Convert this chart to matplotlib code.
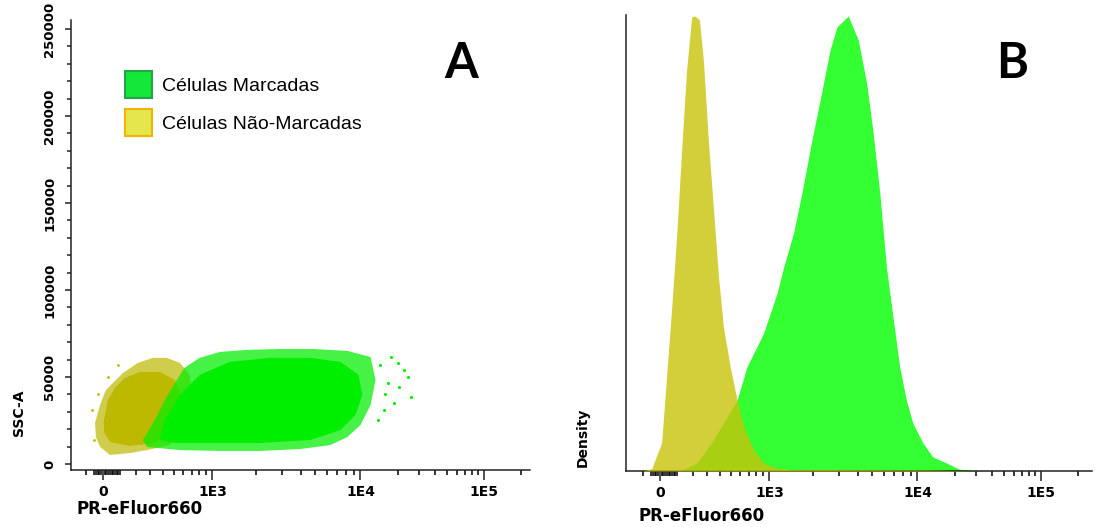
import numpy as np
import matplotlib
matplotlib.use("Agg")
import matplotlib.pyplot as plt
from matplotlib.patches import Patch
from matplotlib.ticker import FixedLocator, FixedFormatter, NullFormatter

# ---------------- data ----------------
legend_labels = ["Células Marcadas", "Células Não-Marcadas"]
x_label = "PR-eFluor660"
ya_label = "SSC-A"
yb_label = "Density"
xtick_values = [0, 1e3, 1e4, 1e5]
xtick_labels = ["0", "1E3", "1E4", "1E5"]
ytick_values = [0, 50000, 100000, 150000, 200000, 250000]
ytick_labels = ["0", "50000", "100000", "150000", "200000", "250000"]

# Panel A: outlines of the dot clouds (fluorescence, SSC-A)
unl_outer_x = [-46, -17, 17, 58, 118, 212, 320, 435, 564, 675, 699, 611, 464, 276, 161, 41, -17, -41]
unl_outer_y = [23600, 33900, 42500, 46600, 52300, 58100, 61000, 61000, 58100, 51200, 36800, 19500, 10900, 8000, 6300, 5200, 9800, 15500]
unl_core_x = [6, 29, 70, 130, 227, 375, 513, 585, 513, 336, 161, 41, 6]
unl_core_y = [25300, 36800, 43700, 49500, 52900, 52900, 48300, 36800, 19500, 12100, 10400, 12700, 18400]

lab_outer_x = [276, 247, 336, 419, 513, 611, 804, 1126, 1733, 2901, 4834, 8175, 12070, 13250, 12070, 10000, 8175, 6300, 3966, 2126, 1126, 564]
lab_outer_y = [9800, 13800, 25300, 36800, 46600, 55200, 61000, 64400, 65600, 66100, 66100, 65000, 61500, 48300, 33900, 22400, 15500, 10900, 8600, 7500, 7500, 8000]
lab_core_x = [375, 419, 564, 804, 1323, 2483, 4622, 7343, 9700, 10350, 9260, 7343, 4622, 2126, 960, 513]
lab_core_y = [13800, 25300, 39700, 51200, 58700, 61000, 61000, 58700, 51200, 39700, 28200, 19500, 13800, 12100, 12100, 12100]

lab_outlier_x = [17580, 22430, 25570, 20030, 18580, 15400, 13760, 16600, 20410, 24170, 14500, 15800]
lab_outlier_y = [61500, 54000, 38500, 58100, 35100, 31000, 25300, 46600, 44300, 50000, 57000, 40000]
unl_outlier_x = [-64, -52, 30, 90, -30]
unl_outlier_y = [31000, 13800, 50000, 57000, 40000]

# Panel B: histograms (fluorescence, % of mode)
lab_hist_x = [118, 228, 347, 566, 678, 906, 1132, 1258, 1472, 1679, 1963, 2231, 2604, 2896, 3449,
              4027, 4577, 5063, 5606, 6209, 6870, 7607, 8426, 9320, 11040, 13290, 17050, 21820, 34700]
lab_hist_d = [0, 1.8, 6.8, 15.6, 22.9, 30.3, 39.1, 44.8, 52.3, 61.1, 72.7, 81.5, 92.5, 97.6, 100,
              94.7, 85.3, 74.3, 61.1, 44.8, 33.8, 22.9, 15.6, 10.5, 6.2, 3.1, 1.8, 0.4, 0]
unl_hist_x = [-100, -48, 10, 39, 68, 98, 128, 159, 192, 214, 244, 272, 310, 349, 390, 433, 496,
              566, 639, 764, 906, 1097, 1399, 3000, 12000, 30000]
unl_hist_d = [0, 0.5, 6.2, 20.9, 35.6, 51.6, 70.3, 88.1, 99.8, 100, 99.1, 90.3, 72.1, 57.4, 42.6,
              31.6, 22.9, 15.6, 9.7, 4.6, 1.8, 0.7, 0.3, 0.3, 0.2, 0]

# ---------------- styles ----------------
GREEN_DOT = "#00ee00"
YELLOW_DOT = "#bdb900"
GREEN_HIST = "#33ff33"
YELLOW_HIST = (200 / 255, 196 / 255, 10 / 255)
AXC = "#222222"

# biexponential-like axis (asinh, piecewise fitted to the decade positions)
C = 368.0
_T = np.array([-20.0, 0.0, np.arcsinh(1e3 / C), np.arcsinh(1e4 / C), np.arcsinh(1e5 / C), 20.0])
_P = np.array([-20 * 63.5, 0.0, 109.5, 257.5, 381.0, 381.0 + (20 - np.arcsinh(1e5 / C)) * 53.3])


def fwd(x):
    return np.interp(np.arcsinh(np.asarray(x, float) / C), _T, _P)


def inv(p):
    return C * np.sinh(np.interp(np.asarray(p, float), _P, _T))


minor_x = ([-100] + list(range(-50, 0, 10)) + list(range(10, 100, 10)) + list(range(100, 1000, 100))
           + list(range(2000, 10000, 1000)) + list(range(20000, 100000, 10000)) + [200000])

W, H = 1098, 527
fig = plt.figure(figsize=(W / 100, H / 100), dpi=100)


def fx(px):
    return px / W


def fy(py):
    return 1 - py / H


axA = fig.add_axes([fx(71), fy(470), (530 - 71) / W, (470 - 20) / H])
axB = fig.add_axes([fx(626), fy(471), (1092 - 626) / W, (471 - 15) / H])

for ax in (axA, axB):
    ax.set_xscale("function", functions=(fwd, inv))
    for s in ("top", "right"):
        ax.spines[s].set_visible(False)
    for s in ("left", "bottom"):
        ax.spines[s].set_color(AXC)
        ax.spines[s].set_linewidth(1.1)
    ax.xaxis.set_major_locator(FixedLocator(xtick_values))
    ax.xaxis.set_major_formatter(FixedFormatter(xtick_labels))
    ax.xaxis.set_minor_locator(FixedLocator(minor_x))
    ax.xaxis.set_minor_formatter(NullFormatter())
    ax.tick_params(axis="x", which="major", length=7.5, width=1.1, color=AXC, pad=3,
                   labelsize=10)
    ax.tick_params(axis="x", which="minor", length=3.8, width=1.1, color="#000000")
    for lb in ax.get_xticklabels():
        lb.set_fontweight("bold")
        lb.set_family("DejaVu Sans")

axA.set_xlim(-193, 237000)
axA.set_ylim(-3448, 255170)
axB.set_xlim(-206, 260400)
axB.set_ylim(0, 100.22)

# y axis of panel A
axA.yaxis.set_major_locator(FixedLocator(ytick_values))
axA.yaxis.set_major_formatter(FixedFormatter(ytick_labels))
axA.yaxis.set_minor_locator(FixedLocator(list(range(10000, 260000, 10000))))
axA.tick_params(axis="y", which="major", length=4.5, width=1.1, color=AXC, pad=6,
                labelsize=9.5, labelrotation=90)
axA.tick_params(axis="y", which="minor", length=3, width=1.1, color=AXC)
for lb in axA.get_yticklabels():
    lb.set_fontweight("bold")
    lb.set_va("center")

axB.tick_params(axis="y", which="both", left=False, labelleft=False)

# ---------- Panel A: dot clouds ----------
axA.fill(unl_outer_x, unl_outer_y, color=YELLOW_DOT, alpha=0.7, lw=0, zorder=2)
axA.fill(unl_core_x, unl_core_y, color=YELLOW_DOT, lw=0, zorder=3)
axA.scatter(unl_outlier_x, unl_outlier_y, s=4, color=YELLOW_DOT, lw=0, zorder=3)
axA.fill(lab_outer_x, lab_outer_y, color=GREEN_DOT, alpha=0.72, lw=0, zorder=4)
axA.fill(lab_core_x, lab_core_y, color=GREEN_DOT, lw=0, zorder=5)
axA.scatter(lab_outlier_x, lab_outlier_y, s=5, color=GREEN_DOT, lw=0, zorder=5)

handles = [Patch(facecolor="#14e63a", edgecolor="#25a34a", linewidth=1.5),
           Patch(facecolor="#e4e64c", edgecolor="#f2b400", linewidth=1.5)]
leg = axA.legend(handles, legend_labels, loc="upper left",
                 bbox_to_anchor=((125 - 71) / 459, 1 - (71 - 20) / 450),
                 frameon=False, borderpad=0, borderaxespad=0,
                 handlelength=1.39, handleheight=1.76, handletextpad=0.5,
                 labelspacing=0.56, prop={"family": "Liberation Sans", "size": 14})

# ---------- Panel B: histograms ----------
axB.fill_between(lab_hist_x, lab_hist_d, 0, color=GREEN_HIST, lw=0, zorder=2)
axB.fill_between(unl_hist_x, unl_hist_d, 0, color=YELLOW_HIST, alpha=0.8, lw=0, zorder=3)

# ---------- texts ----------
fig.text(fx(77), fy(514), x_label, ha="left", va="baseline", fontsize=12, fontweight="bold")
fig.text(fx(638), fy(521), x_label, ha="left", va="baseline", fontsize=12, fontweight="bold")
fig.text(fx(19), fy(413), ya_label, rotation=90, ha="center", va="center", fontsize=10,
         fontweight="bold")
fig.text(fx(583), fy(437), yb_label, rotation=90, ha="center", va="center", fontsize=10,
         fontweight="bold")
fig.text(fx(461), fy(78), "A", ha="center", va="baseline", fontsize=35, fontweight="bold",
         family="Lato")
fig.text(fx(1012), fy(78), "B", ha="center", va="baseline", fontsize=35, fontweight="bold",
         family="Lato")

fig.savefig("out.png", dpi=100)
